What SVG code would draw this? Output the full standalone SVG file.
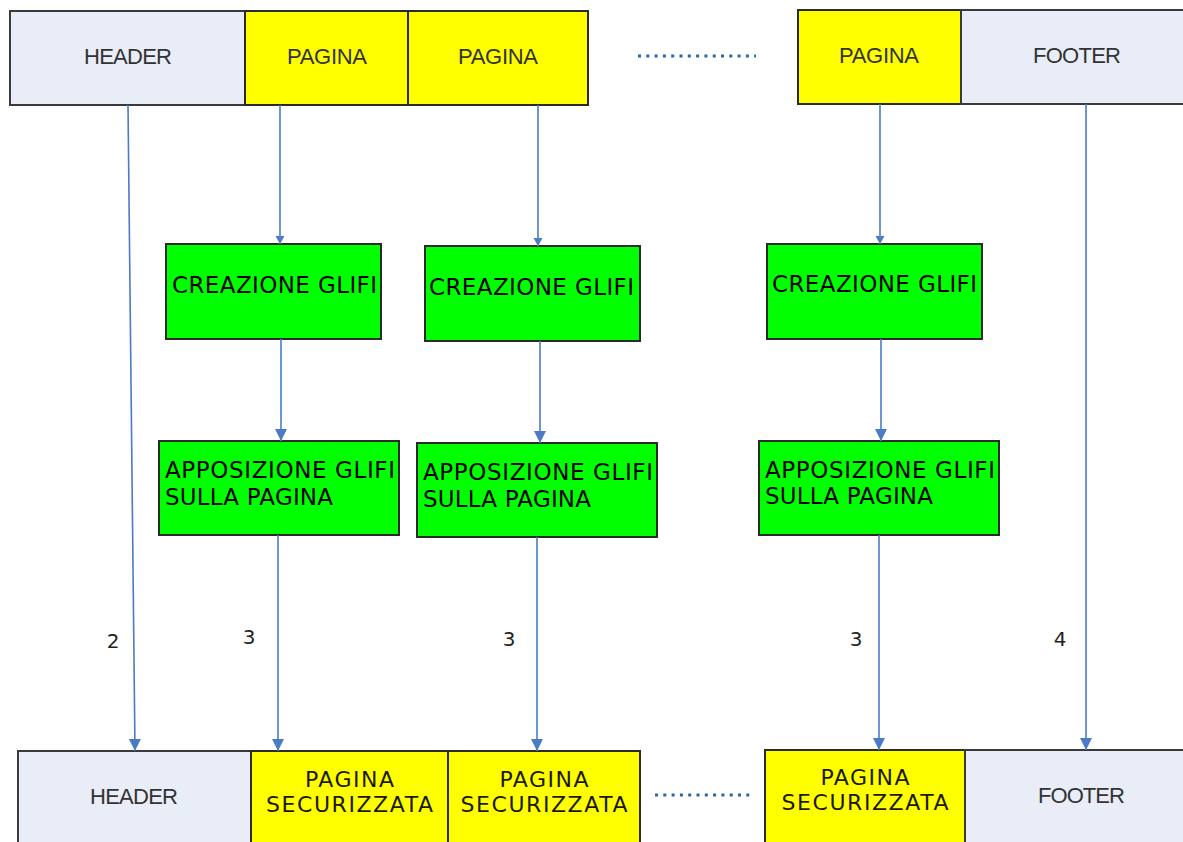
<svg xmlns="http://www.w3.org/2000/svg" width="1183" height="842" viewBox="0 0 1183 842">
<style>
.hf{fill:#e9edf7;stroke:#3a3a3a;stroke-width:2}
.pg{fill:#ffff00;stroke:#2a2a2a;stroke-width:2}
.gr{fill:#00ff00;stroke:#2a2a2a;stroke-width:2}
.ar{font-family:"Liberation Sans",Arial,sans-serif;font-size:22px;fill:#333;text-anchor:middle}
.vd{font-family:"DejaVu Sans",Verdana,sans-serif;font-size:23px;fill:#000}
.vy{font-family:"DejaVu Sans",Verdana,sans-serif;font-size:22px;fill:#1a1a00;text-anchor:middle}
.num{font-family:"DejaVu Sans",Verdana,sans-serif;font-size:20px;fill:#222;text-anchor:middle}
.ln{stroke:#4a7bc4;stroke-width:1.6;fill:none}
.dot{stroke:#2f63a8;stroke-width:3;fill:none}
</style>
<defs>
<marker id="ah" markerUnits="userSpaceOnUse" markerWidth="14" markerHeight="12" refX="12" refY="6" orient="auto">
<path d="M0,0 L12,6 L0,12 Z" fill="#4a7bc4"/>
</marker>
<marker id="ahs" markerUnits="userSpaceOnUse" markerWidth="10" markerHeight="10" refX="8" refY="4.5" orient="auto">
<path d="M0,0 L8,4.5 L0,9 Z" fill="#4a7bc4"/>
</marker>
</defs>
<rect width="1183" height="842" fill="#ffffff"/>

<g id="top-header"><rect class="hf" x="10" y="11" width="235" height="94"/><text class="ar" x="128" y="64" textLength="88">HEADER</text></g>
<g id="top-pagina-1"><rect class="pg" x="245" y="11" width="163" height="94"/><text class="ar" x="327" y="64" textLength="80">PAGINA</text></g>
<g id="top-pagina-2"><rect class="pg" x="408" y="11" width="180" height="94"/><text class="ar" x="498" y="64" textLength="80">PAGINA</text></g>
<g id="top-dots"><line class="dot" x1="638" y1="56" x2="756" y2="56" stroke-dasharray="3 5.3"/></g>
<g id="top-pagina-3"><rect class="pg" x="798" y="10" width="163" height="94"/><text class="ar" x="879" y="63" textLength="80">PAGINA</text></g>
<g id="top-footer"><rect class="hf" x="961" y="10" width="240" height="94"/><text class="ar" x="1077" y="63" textLength="88">FOOTER</text></g>

<g id="creazione-1"><rect class="gr" x="166" y="244" width="215" height="95"/><text class="vd" x="172" y="293" textLength="205">CREAZIONE GLIFI</text></g>
<g id="creazione-2"><rect class="gr" x="425" y="246" width="215" height="95"/><text class="vd" x="429" y="295" textLength="205">CREAZIONE GLIFI</text></g>
<g id="creazione-3"><rect class="gr" x="767" y="244" width="215" height="95"/><text class="vd" x="772" y="292" textLength="205">CREAZIONE GLIFI</text></g>

<g id="apposizione-1"><rect class="gr" x="159" y="441" width="240" height="94"/><text class="vd" x="165" y="478" textLength="230">APPOSIZIONE GLIFI</text><text class="vd" x="165" y="505" textLength="168">SULLA PAGINA</text></g>
<g id="apposizione-2"><rect class="gr" x="417" y="443" width="240" height="94"/><text class="vd" x="423" y="480" textLength="230">APPOSIZIONE GLIFI</text><text class="vd" x="423" y="507" textLength="168">SULLA PAGINA</text></g>
<g id="apposizione-3"><rect class="gr" x="759" y="441" width="240" height="94"/><text class="vd" x="765" y="478" textLength="230">APPOSIZIONE GLIFI</text><text class="vd" x="765" y="504" textLength="168">SULLA PAGINA</text></g>

<g id="bottom-header"><rect class="hf" x="18" y="751" width="233" height="110"/><text class="ar" x="134" y="804" textLength="88">HEADER</text></g>
<g id="bottom-pagina-1"><rect class="pg" x="251" y="751" width="197" height="110"/><text class="vy" x="349.5" y="787" textLength="89">PAGINA</text><text class="vy" x="349.5" y="812" textLength="167">SECURIZZATA</text></g>
<g id="bottom-pagina-2"><rect class="pg" x="448" y="751" width="192" height="110"/><text class="vy" x="544" y="787" textLength="89">PAGINA</text><text class="vy" x="544" y="812" textLength="167">SECURIZZATA</text></g>
<g id="bottom-dots"><line class="dot" x1="655" y1="795" x2="753" y2="795" stroke-dasharray="3 5.3"/></g>
<g id="bottom-pagina-3"><rect class="pg" x="765" y="750" width="200" height="110"/><text class="vy" x="865" y="785" textLength="89">PAGINA</text><text class="vy" x="865" y="810" textLength="167">SECURIZZATA</text></g>
<g id="bottom-footer"><rect class="hf" x="965" y="750" width="236" height="110"/><text class="ar" x="1081.5" y="803" textLength="87">FOOTER</text></g>

<g id="connectors">
<line class="ln" x1="128" y1="105" x2="135" y2="751" marker-end="url(#ah)"/>
<line class="ln" x1="280" y1="105" x2="280" y2="244" marker-end="url(#ahs)"/>
<line class="ln" x1="281" y1="339" x2="281" y2="441" marker-end="url(#ah)"/>
<line class="ln" x1="278" y1="535" x2="278" y2="751" marker-end="url(#ah)"/>
<line class="ln" x1="538" y1="105" x2="538" y2="246" marker-end="url(#ahs)"/>
<line class="ln" x1="540" y1="341" x2="540" y2="443" marker-end="url(#ah)"/>
<line class="ln" x1="537" y1="537" x2="537" y2="751" marker-end="url(#ah)"/>
<line class="ln" x1="880" y1="104" x2="880" y2="244" marker-end="url(#ahs)"/>
<line class="ln" x1="881" y1="339" x2="881" y2="441" marker-end="url(#ah)"/>
<line class="ln" x1="879" y1="535" x2="879" y2="750" marker-end="url(#ah)"/>
<line class="ln" x1="1086" y1="104" x2="1086" y2="750" marker-end="url(#ah)"/>
<text class="num" x="113" y="648">2</text>
<text class="num" x="249" y="644">3</text>
<text class="num" x="509" y="646">3</text>
<text class="num" x="856" y="646">3</text>
<text class="num" x="1060" y="646">4</text>
</g>
</svg>
